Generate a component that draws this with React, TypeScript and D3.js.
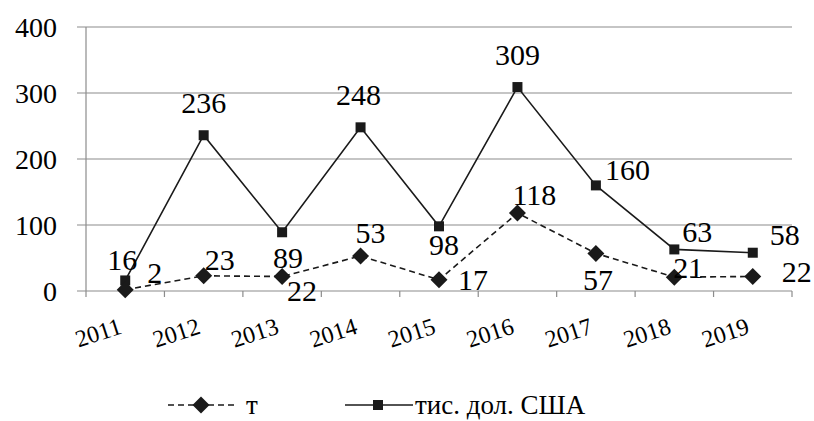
import React from "react";
import * as d3 from "d3";

const years = ["2011", "2012", "2013", "2014", "2015", "2016", "2017", "2018", "2019"];
const tonnes = [2, 23, 22, 53, 17, 118, 57, 21, 22];
const usd = [16, 236, 89, 248, 98, 309, 160, 63, 58];
const yTicks = [0, 100, 200, 300, 400];
const seriesNames = ["т", "тис. дол. США"];

// label offsets (dx from point x, dy baseline from point y, anchor)
const tonLabelPos: [number, number, string][] = [
  [22, -7, "start"], [1, -6, "start"], [5, 25, "start"], [10, -13, "middle"], [19, 10, "start"],
  [17, -8, "middle"], [2, 37, "middle"], [-1, 1, "start"], [29, 6, "start"],
];
const usdLabelPos: [number, number, string][] = [
  [-3, -10, "middle"], [0, -22, "middle"], [6, 36, "middle"], [-2, -22, "middle"], [5, 29, "middle"],
  [0, -22, "middle"], [9, -5, "start"], [8, -7, "start"], [17, -8, "start"],
];

const W = 814, H = 421;
const left = 86, right = 792, top = 27, bottom = 291;
const font = "'Liberation Serif', 'Times New Roman', serif";

export default function App() {
  const x = d3.scaleBand().domain(years).range([left, right]).paddingInner(0).paddingOuter(0);
  const y = d3.scaleLinear().domain([0, 400]).range([bottom, top]);
  const cx = (i: number) => (x(years[i]) as number) + x.bandwidth() / 2;
  const line = d3.line<number>().x((_, i) => cx(i)).y((d) => y(d));
  const diamond = (px: number, py: number, r: number) =>
    `M${px},${py - r}L${px + r},${py}L${px},${py + r}L${px - r},${py}Z`;
  const grid = "#8c8c8c";
  const ts = (size: number) => ({ fontFamily: font, fontSize: size });

  return (
    <svg width={W} height={H} style={{ position: "absolute", left: 0, top: 0, background: "#fff" }}>
      {yTicks.map((t) => (
        <g key={t}>
          <line x1={77} x2={right} y1={y(t)} y2={y(t)} stroke={grid} strokeWidth={1.2} />
          <text x={57} y={y(t) + 10} textAnchor="end" style={ts(28)} fill="#000">{t}</text>
        </g>
      ))}
      <line x1={left} x2={left} y1={top} y2={bottom + 6} stroke={grid} strokeWidth={1.2} />
      {years.map((yr) => (
        <line key={yr} x1={(x(yr) as number) + x.bandwidth()} x2={(x(yr) as number) + x.bandwidth()} y1={bottom} y2={bottom + 6} stroke={grid} strokeWidth={1.2} />
      ))}
      {years.map((yr, i) => (
        <text key={yr} x={cx(i) - 2} y={333} textAnchor="end" style={ts(24)}
          transform={`rotate(-18, ${cx(i) - 2}, 333)`} fill="#000">{yr}</text>
      ))}
      <path d={line(usd) as string} fill="none" stroke="#1a1a1a" strokeWidth={1.6} />
      <path d={line(tonnes) as string} fill="none" stroke="#1a1a1a" strokeWidth={1.6} strokeDasharray="6,4" />
      {usd.map((v, i) => (
        <rect key={i} x={cx(i) - 5} y={y(v) - 5} width={10} height={10} fill="#1a1a1a" />
      ))}
      {tonnes.map((v, i) => (
        <path key={i} d={diamond(cx(i), y(v), 8.5)} fill="#1a1a1a" />
      ))}
      {usd.map((v, i) => (
        <text key={i} x={cx(i) + usdLabelPos[i][0]} y={y(v) + usdLabelPos[i][1]} textAnchor={usdLabelPos[i][2] as any}
          style={ts(30)} fill="#000">{v}</text>
      ))}
      {tonnes.map((v, i) => (
        <text key={i} x={cx(i) + tonLabelPos[i][0]} y={y(v) + tonLabelPos[i][1]} textAnchor={tonLabelPos[i][2] as any}
          style={ts(30)} fill="#000">{v}</text>
      ))}
      {/* legend */}
      <line x1={168} x2={234} y1={405} y2={405} stroke="#1a1a1a" strokeWidth={1.6} strokeDasharray="6,4" />
      <path d={diamond(201, 405, 8.5)} fill="#1a1a1a" />
      <text x={246} y={414} style={ts(27)} fill="#000">{seriesNames[0]}</text>
      <line x1={345} x2={413} y1={405} y2={405} stroke="#1a1a1a" strokeWidth={1.6} />
      <rect x={373} y={400} width={10} height={10} fill="#1a1a1a" />
      <text x={415} y={414} style={ts(27)} fill="#000">{seriesNames[1]}</text>
    </svg>
  );
}
